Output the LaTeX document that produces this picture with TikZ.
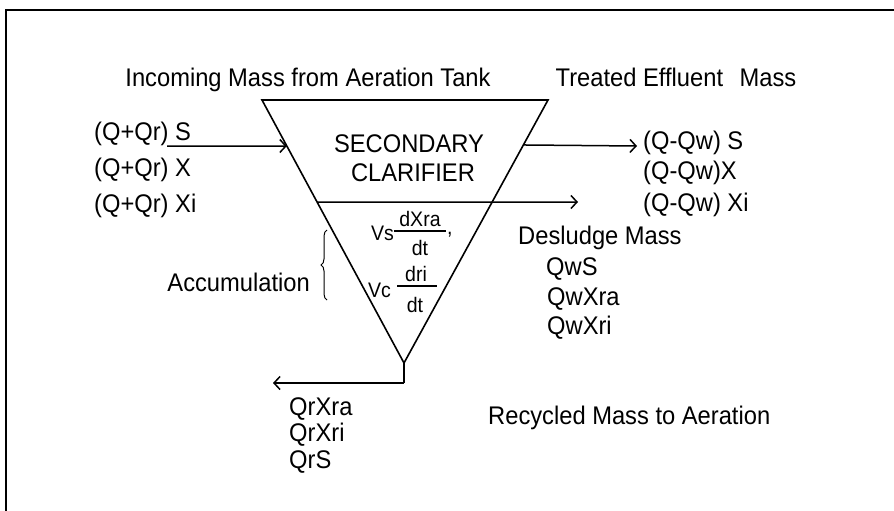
\documentclass[tikz,border=0pt]{standalone}
\usepackage{fontspec}
\setmainfont[FakeStretch=0.93]{Liberation Sans}
\usetikzlibrary{arrows.meta,calc,decorations.pathreplacing}
\begin{document}
\begin{tikzpicture}[x=1pt,y=-1pt,
  lbl/.style={inner sep=0pt,font=\fontsize{25.5}{28}\selectfont},
  sml/.style={inner sep=0pt,font=\fontsize{21}{24}\selectfont},
  ln/.style={line width=1.6pt},
  fbar/.style={line width=1.1pt},
  arr/.style={line width=1.5pt,-{Straight Barb[length=6pt,width=13pt,line width=1.5pt]}},
]
\useasboundingbox (0,0) rectangle (894,511);
% frame
\draw[line width=2pt] (6,511) -- (6,10) -- (894,10);

% clarifier triangle
\coordinate (tl) at (262,100);
\coordinate (tr) at (548,100);
\coordinate (ap) at (404,363);
\draw[ln] (tl) -- (tr) -- (ap) -- cycle;

% titles
\node[lbl,anchor=base] (incoming) at (308,86) {Incoming Mass from Aeration Tank};
\node[lbl,anchor=base] (treated) at (676,86) {Treated Effluent\hspace{10pt} Mass};

% inside text
\node[lbl,anchor=base] (sec) at (409,152) {SECONDARY};
\node[lbl,anchor=base] (cla) at (413,181) {CLARIFIER};

% incoming stack
\node[lbl,anchor=base west] (inS) at (94,140) {(Q+Qr) S};
\node[lbl,anchor=base west] (inX) at (94,176) {(Q+Qr) X};
\node[lbl,anchor=base west] (inXi) at (94,212) {(Q+Qr) Xi};

% effluent stack
\node[lbl,anchor=base west] (outS) at (643,149) {(Q-Qw) S};
\node[lbl,anchor=base west] (outX) at (643,179) {(Q-Qw)X};
\node[lbl,anchor=base west] (outXi) at (643,211) {(Q-Qw) Xi};

% desludge
\node[lbl,anchor=base west] (des) at (518,244) {Desludge Mass};
\node[lbl,anchor=base west] (qws) at (546,275) {QwS};
\node[lbl,anchor=base west] (qwxra) at (547,305) {QwXra};
\node[lbl,anchor=base west] (qwxri) at (547,334) {QwXri};

% accumulation
\node[lbl,anchor=base east] (acc) at (310,291) {Accumulation};
\draw[line width=1pt,decorate,decoration={brace,amplitude=6pt}] (327,300) -- (327,230);

% recycle
\node[lbl,anchor=base west] (qrxra) at (289,415) {QrXra};
\node[lbl,anchor=base west] (qrxri) at (289,441) {QrXri};
\node[lbl,anchor=base west] (qrs) at (289,468) {QrS};
\node[lbl,anchor=base west] (rec) at (488,424) {Recycled Mass to Aeration};

% accumulation terms
\node[sml,anchor=base west] (vs) at (371,240) {Vs};
\node[sml,anchor=base] (dxra) at (420,226) {dXra};
\draw[fbar] (394,231) -- (446,231);
\node[sml,anchor=base] (dt1) at (420,255) {dt};
\node[sml,anchor=base west] (comma) at (447,234) {,};

\node[sml,anchor=base west] (vc) at (368,297) {Vc};
\node[sml,anchor=base] (dri) at (416,281) {dri};
\draw[fbar] (397,286) -- (437,286);
\node[sml,anchor=base] (dt2) at (415,312) {dt};

% flows
\coordinate (inStart) at (167,146);
\coordinate (inEnd) at ($(tl)!0.175!(ap)$);
\draw[arr] (inStart) -- (inEnd);

\coordinate (outStart) at ($(tr)!0.171!(ap)$);
\coordinate (outEnd) at (637,146);
\draw[arr] (outStart) -- (outEnd);

\coordinate (wStart) at ($(tl)!0.388!(ap)$);
\coordinate (wEnd) at (578,202);
\draw[arr] (wStart) -- (wEnd);

\coordinate (stem) at (404,383);
\coordinate (recEnd) at (273,383);
\draw[ln] (ap) -- (stem);
\draw[arr] (stem) -- (recEnd);
\end{tikzpicture}
\end{document}
